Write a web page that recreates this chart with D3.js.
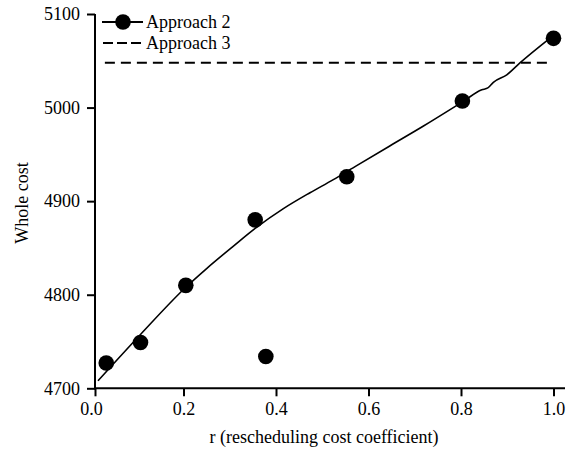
<!DOCTYPE html>
<html><head><meta charset="utf-8">
<script src="https://cdn.jsdelivr.net/npm/d3@7"></script>
<style>body{margin:0;background:#fff}svg{display:block}</style>
</head><body><svg id="c" width="576" height="456"></svg>
<script>
// Data
const pointX = [0.033, 0.107, 0.205, 0.355, 0.378, 0.553, 0.803, 1.0];
const pointY = [4727, 4749, 4810, 4880, 4734, 4926, 5007, 5074];
const curveX = [0.015, 0.106, 0.205, 0.250, 0.308, 0.358, 0.416, 0.4735, 0.524, 0.5745, 0.646, 0.718, 0.803, 0.845, 0.858, 0.87, 0.899, 0.928, 0.992];
const curveY = [4708, 4757, 4808, 4828, 4852, 4872, 4892, 4909, 4923, 4938, 4959, 4980, 5006, 5019, 5021, 5027, 5035, 5048, 5074];
const approach3X = [0.03, 0.99];
const approach3Y = 5048;
const xTicks = [0, 0.2, 0.4, 0.6, 0.8, 1.0];
const yTicks = [4700, 4800, 4900, 5000, 5100];
const seriesNames = ["Approach 2", "Approach 3"];

const svg = d3.select("#c");
const font = "'Liberation Serif','Times New Roman',serif";
const x = d3.scaleLinear().domain([0, 1]).range([91, 553.5]);
const y = d3.scaleLinear().domain([4700, 5100]).range([388.3, 14]);
const axisX = 95, axisRight = 565;

// y axis
const gy = svg.append("g").attr("transform", `translate(${axisX},0)`)
  .call(d3.axisLeft(y).tickValues(yTicks).tickSize(8).tickPadding(7).tickFormat(d3.format("d")));
gy.select(".domain").remove();
gy.selectAll("line").attr("stroke-width", 2);
gy.selectAll("text").attr("font-family", font).attr("font-size", 18).attr("fill", "#000");
svg.append("line").attr("x1", axisX).attr("x2", axisX).attr("y1", y(5100)).attr("y2", y(4700) + 1)
  .attr("stroke", "#000").attr("stroke-width", 2);

// x axis
const gx = svg.append("g").attr("transform", `translate(0,${y(4700)})`)
  .call(d3.axisBottom(x).tickValues(xTicks).tickSize(8).tickPadding(6).tickFormat(d3.format(".1f")));
gx.select(".domain").remove();
gx.selectAll("line").attr("stroke-width", 2);
gx.selectAll(".tick").filter(d => d === 0).select("line").attr("x1", axisX - x(0)).attr("x2", axisX - x(0));
gx.selectAll("text").attr("font-family", font).attr("font-size", 18).attr("fill", "#000");
svg.append("line").attr("x1", axisX - 1).attr("x2", axisRight).attr("y1", y(4700)).attr("y2", y(4700))
  .attr("stroke", "#000").attr("stroke-width", 2);

// titles
svg.append("text").attr("x", 324).attr("y", 443).attr("text-anchor", "middle")
  .attr("font-family", font).attr("font-size", 18).text("r (rescheduling cost coefficient)");
svg.append("text").attr("transform", "translate(28,203) rotate(-90)").attr("text-anchor", "middle")
  .attr("font-family", font).attr("font-size", 18).text("Whole cost");

// Approach 3 dashed
svg.append("line").attr("x1", x(approach3X[0])).attr("x2", x(approach3X[1]))
  .attr("y1", y(approach3Y)).attr("y2", y(approach3Y))
  .attr("stroke", "#000").attr("stroke-width", 2).attr("stroke-dasharray", "10,6");

// Approach 2 curve
const curveData = curveX.map((v, i) => [v, curveY[i]]);
svg.append("path").datum(curveData)
  .attr("d", d3.line().x(d => x(d[0])).y(d => y(d[1])).curve(d3.curveMonotoneX))
  .attr("fill", "none").attr("stroke", "#000").attr("stroke-width", 1.6);

// points
svg.selectAll("circle.pt").data(pointX.map((v, i) => [v, pointY[i]])).enter()
  .append("circle").attr("class", "pt").attr("cx", d => x(d[0])).attr("cy", d => y(d[1]))
  .attr("r", 7.8).attr("fill", "#000");

// legend
const lg = svg.append("g");
lg.append("line").attr("x1", 102).attr("x2", 143).attr("y1", 22).attr("y2", 22)
  .attr("stroke", "#000").attr("stroke-width", 2);
lg.append("circle").attr("cx", 123).attr("cy", 22).attr("r", 7.8).attr("fill", "#000");
lg.append("text").attr("x", 146).attr("y", 28).attr("font-family", font).attr("font-size", 18).text(seriesNames[0]);
lg.append("line").attr("x1", 103).attr("x2", 141).attr("y1", 43).attr("y2", 43)
  .attr("stroke", "#000").attr("stroke-width", 2).attr("stroke-dasharray", "10,4");
lg.append("text").attr("x", 146).attr("y", 49).attr("font-family", font).attr("font-size", 18).text(seriesNames[1]);
</script></body></html>
